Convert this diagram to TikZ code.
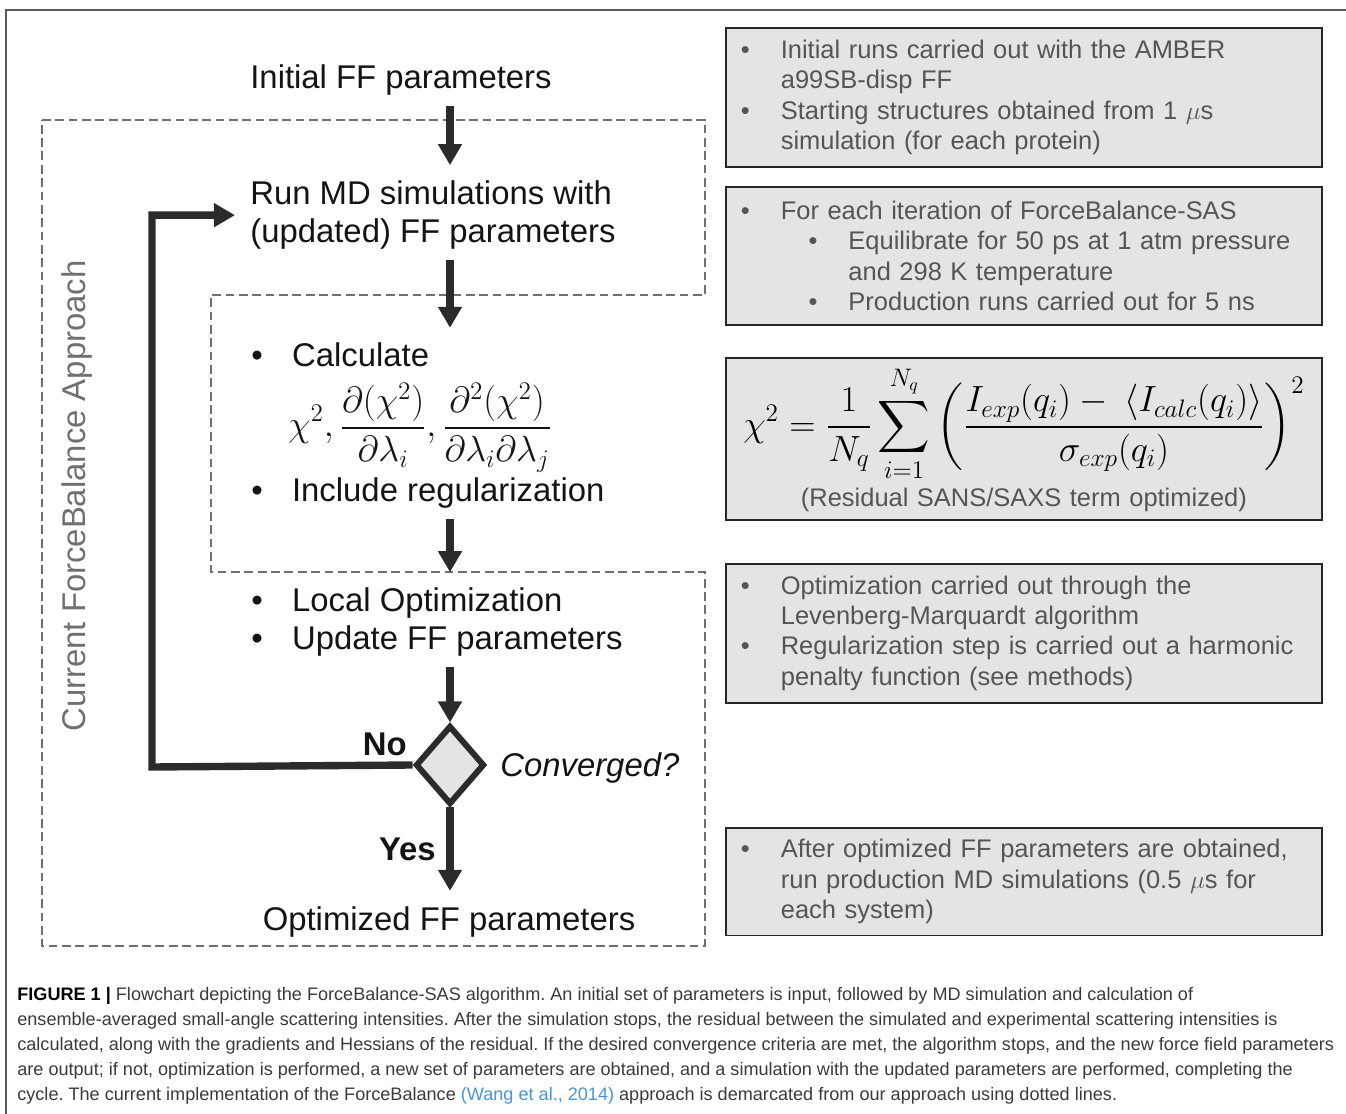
\documentclass[tikz,border=0pt]{standalone}
\usepackage{fontspec}
\setmainfont{Liberation Sans}
\usepackage{amsmath}
\usetikzlibrary{positioning}
\usetikzlibrary{arrows.meta}
\usetikzlibrary{shapes.geometric}

\definecolor{boxgray}{HTML}{E4E4E4}
\definecolor{boxtext}{HTML}{555555}
\definecolor{dashgray}{HTML}{707070}
\definecolor{flowdark}{HTML}{2B2B2B}
\definecolor{captext}{HTML}{3A3A3A}
\definecolor{linkblue}{HTML}{4A94D4}

\newcommand{\bul}{\makebox[23.2pt][l]{\textbullet}}
\newcommand{\sbul}{\makebox[22.7pt][l]{\textbullet}}
\newcommand{\sind}{\hspace*{22.7pt}}

\begin{document}
\begin{tikzpicture}[x=0.02cm, y=-0.02cm,
    main/.style = {inner xsep=0pt, inner ysep=2mm, text=black!92, font=\fontsize{18.7}{22}\selectfont},
    flow/.style = {draw=flowdark, line width=4.2pt, -{Triangle[width=13pt, length=12pt]}, shorten >=1mm},
    decision/.style = {draw=flowdark, diamond, fill=boxgray, line width=3.4pt, inner sep=0pt, minimum width=13.8mm, minimum height=15.8mm},
    note/.style = {draw=black!85, line width=1.1pt, fill=boxgray, text=boxtext, text width=11.32cm, inner xsep=3mm, inner ysep=0pt, align=left, font=\fontsize{14.5}{17.2}\selectfont},
    region/.style = {draw=dashgray, line width=0.9pt, dash pattern=on 5pt off 2.6pt}]
    \useasboundingbox (0,0) rectangle (1346,1114);

    % figure frame and the old ForceBalance region
    \draw[draw=black!65, line width=0.8pt] (6,1114) -- (6,10) -- (1346,10);
    \draw[region] (42,120) -- (705,120) -- (705,295) -- (211,295) -- (211,572) -- (705,572) -- (705,946) -- (42,946) -- cycle;
    \node[main, rotate=90, anchor=base, text=dashgray] (approach) at (85,496) {Current ForceBalance Approach};

    % main flow (base of a multi-line node = its last line)
    \node[main, anchor=base west] (init) at (250,89) {Initial FF parameters};
    \node[main, anchor=base west, align=left] (run) at (250,243) {Run MD simulations with\\(updated) FF parameters};
    \node[main, anchor=base west] (calc) at (251,367) {\bul Calculate};
    \node[main, anchor=base west, inner ysep=0pt, font=\fontsize{22}{26}\selectfont] (grad) at (288,437)
        {$\displaystyle \chi^2,\frac{\partial(\chi^2)}{\partial\lambda_i},\frac{\partial^2(\chi^2)}{\partial\lambda_i\partial\lambda_j}$};
    \node[main, anchor=base west] (reg) at (251,502) {\bul Include regularization};
    \node[main, anchor=base west, align=left] (opt) at (251,650) {\bul Local Optimization\\\bul Update FF parameters};
    \node[decision] (conv) at (450,765) {};
    \node[main, anchor=base east, font=\fontsize{18.7}{22}\selectfont\bfseries] (no) at (407,755) {No};
    \node[main, anchor=base west, font=\fontsize{18.7}{22}\selectfont\itshape] (ask) at (500,776) {Converged?};
    \node[main, anchor=base east, font=\fontsize{18.7}{22}\selectfont\bfseries] (yes) at (436,860) {Yes};
    \node[main, anchor=base] (final) at (449,930) {Optimized FF parameters};
    \coordinate (loop) at (152,767);

    \draw[flow] (init.south -| conv) -- (run.north -| conv);
    \draw[flow] (run.south -| conv) -- (calc.north -| conv);
    \draw[flow] (reg.south -| conv) -- (opt.north -| conv);
    \draw[flow, shorten >=0pt] (opt.south -| conv) -- (conv.north);
    \draw[flow] (conv.south) -- (final.north -| conv);
    \draw[flow, shorten >=3mm] (conv.west) -- (loop) |- (run.west);

    % notes on the right
    \node[note, anchor=north west, minimum height=2.78cm] (box1) at (725,27)
        {\sbul Initial runs carried out with the AMBER\\\sind a99SB-disp FF\\\sbul Starting structures obtained from 1 $\mu$s\\\sind simulation (for each protein)};
    \node[note, minimum height=2.76cm] (box2) [below=3.6mm of box1]
        {\sbul For each iteration of ForceBalance-SAS\\\hspace*{38.5pt}\sbul Equilibrate for 50 ps at 1 atm pressure\\\hspace*{61.2pt}and 298 K temperature\\\hspace*{38.5pt}\sbul Production runs carried out for 5 ns};
    \node[note, minimum height=3.24cm, align=center] (box3) [below=6.2mm of box2]
        {{\color{black}\fontsize{19.6}{23}\selectfont$\displaystyle \chi^2=\frac{1}{N_q}\sum_{i=1}^{N_q}\left(\frac{I_{exp}(q_i)-\ \langle I_{calc}(q_i)\rangle}{\sigma_{exp}(q_i)}\right)^{2}$}\\[2pt]
        (Residual SANS/SAXS term optimized)};
    \node[note, minimum height=2.78cm] (box4) [below=8.4mm of box3]
        {\sbul Optimization carried out through the\\\sind Levenberg-Marquardt algorithm\\\sbul Regularization step is carried out a harmonic\\\sind penalty function (see methods)};
    \node[note, minimum height=2.16cm] (box5) [below=24.6mm of box4]
        {\sbul After optimized FF parameters are obtained,\\\sind run production MD simulations (0.5 $\mu$s for\\\sind each system)};

    % caption
    \node[anchor=base west, align=left, inner sep=0pt, text=captext, font=\fontsize{10.3}{14.2}\selectfont\frenchspacing] (caption) at (17,1100)
        {{\color{black}\bfseries FIGURE 1 |} Flowchart depicting the ForceBalance-SAS algorithm. An initial set of parameters is input, followed by MD simulation and calculation of\\
        ensemble-averaged small-angle scattering intensities. After the simulation stops, the residual between the simulated and experimental scattering intensities is\\
        calculated, along with the gradients and Hessians of the residual. If the desired convergence criteria are met, the algorithm stops, and the new force field parameters\\
        are output; if not, optimization is performed, a new set of parameters are obtained, and a simulation with the updated parameters are performed, completing the\\
        cycle. The current implementation of the ForceBalance {\color{linkblue}(Wang et al., 2014)} approach is demarcated from our approach using dotted lines.};
\end{tikzpicture}
\end{document}
